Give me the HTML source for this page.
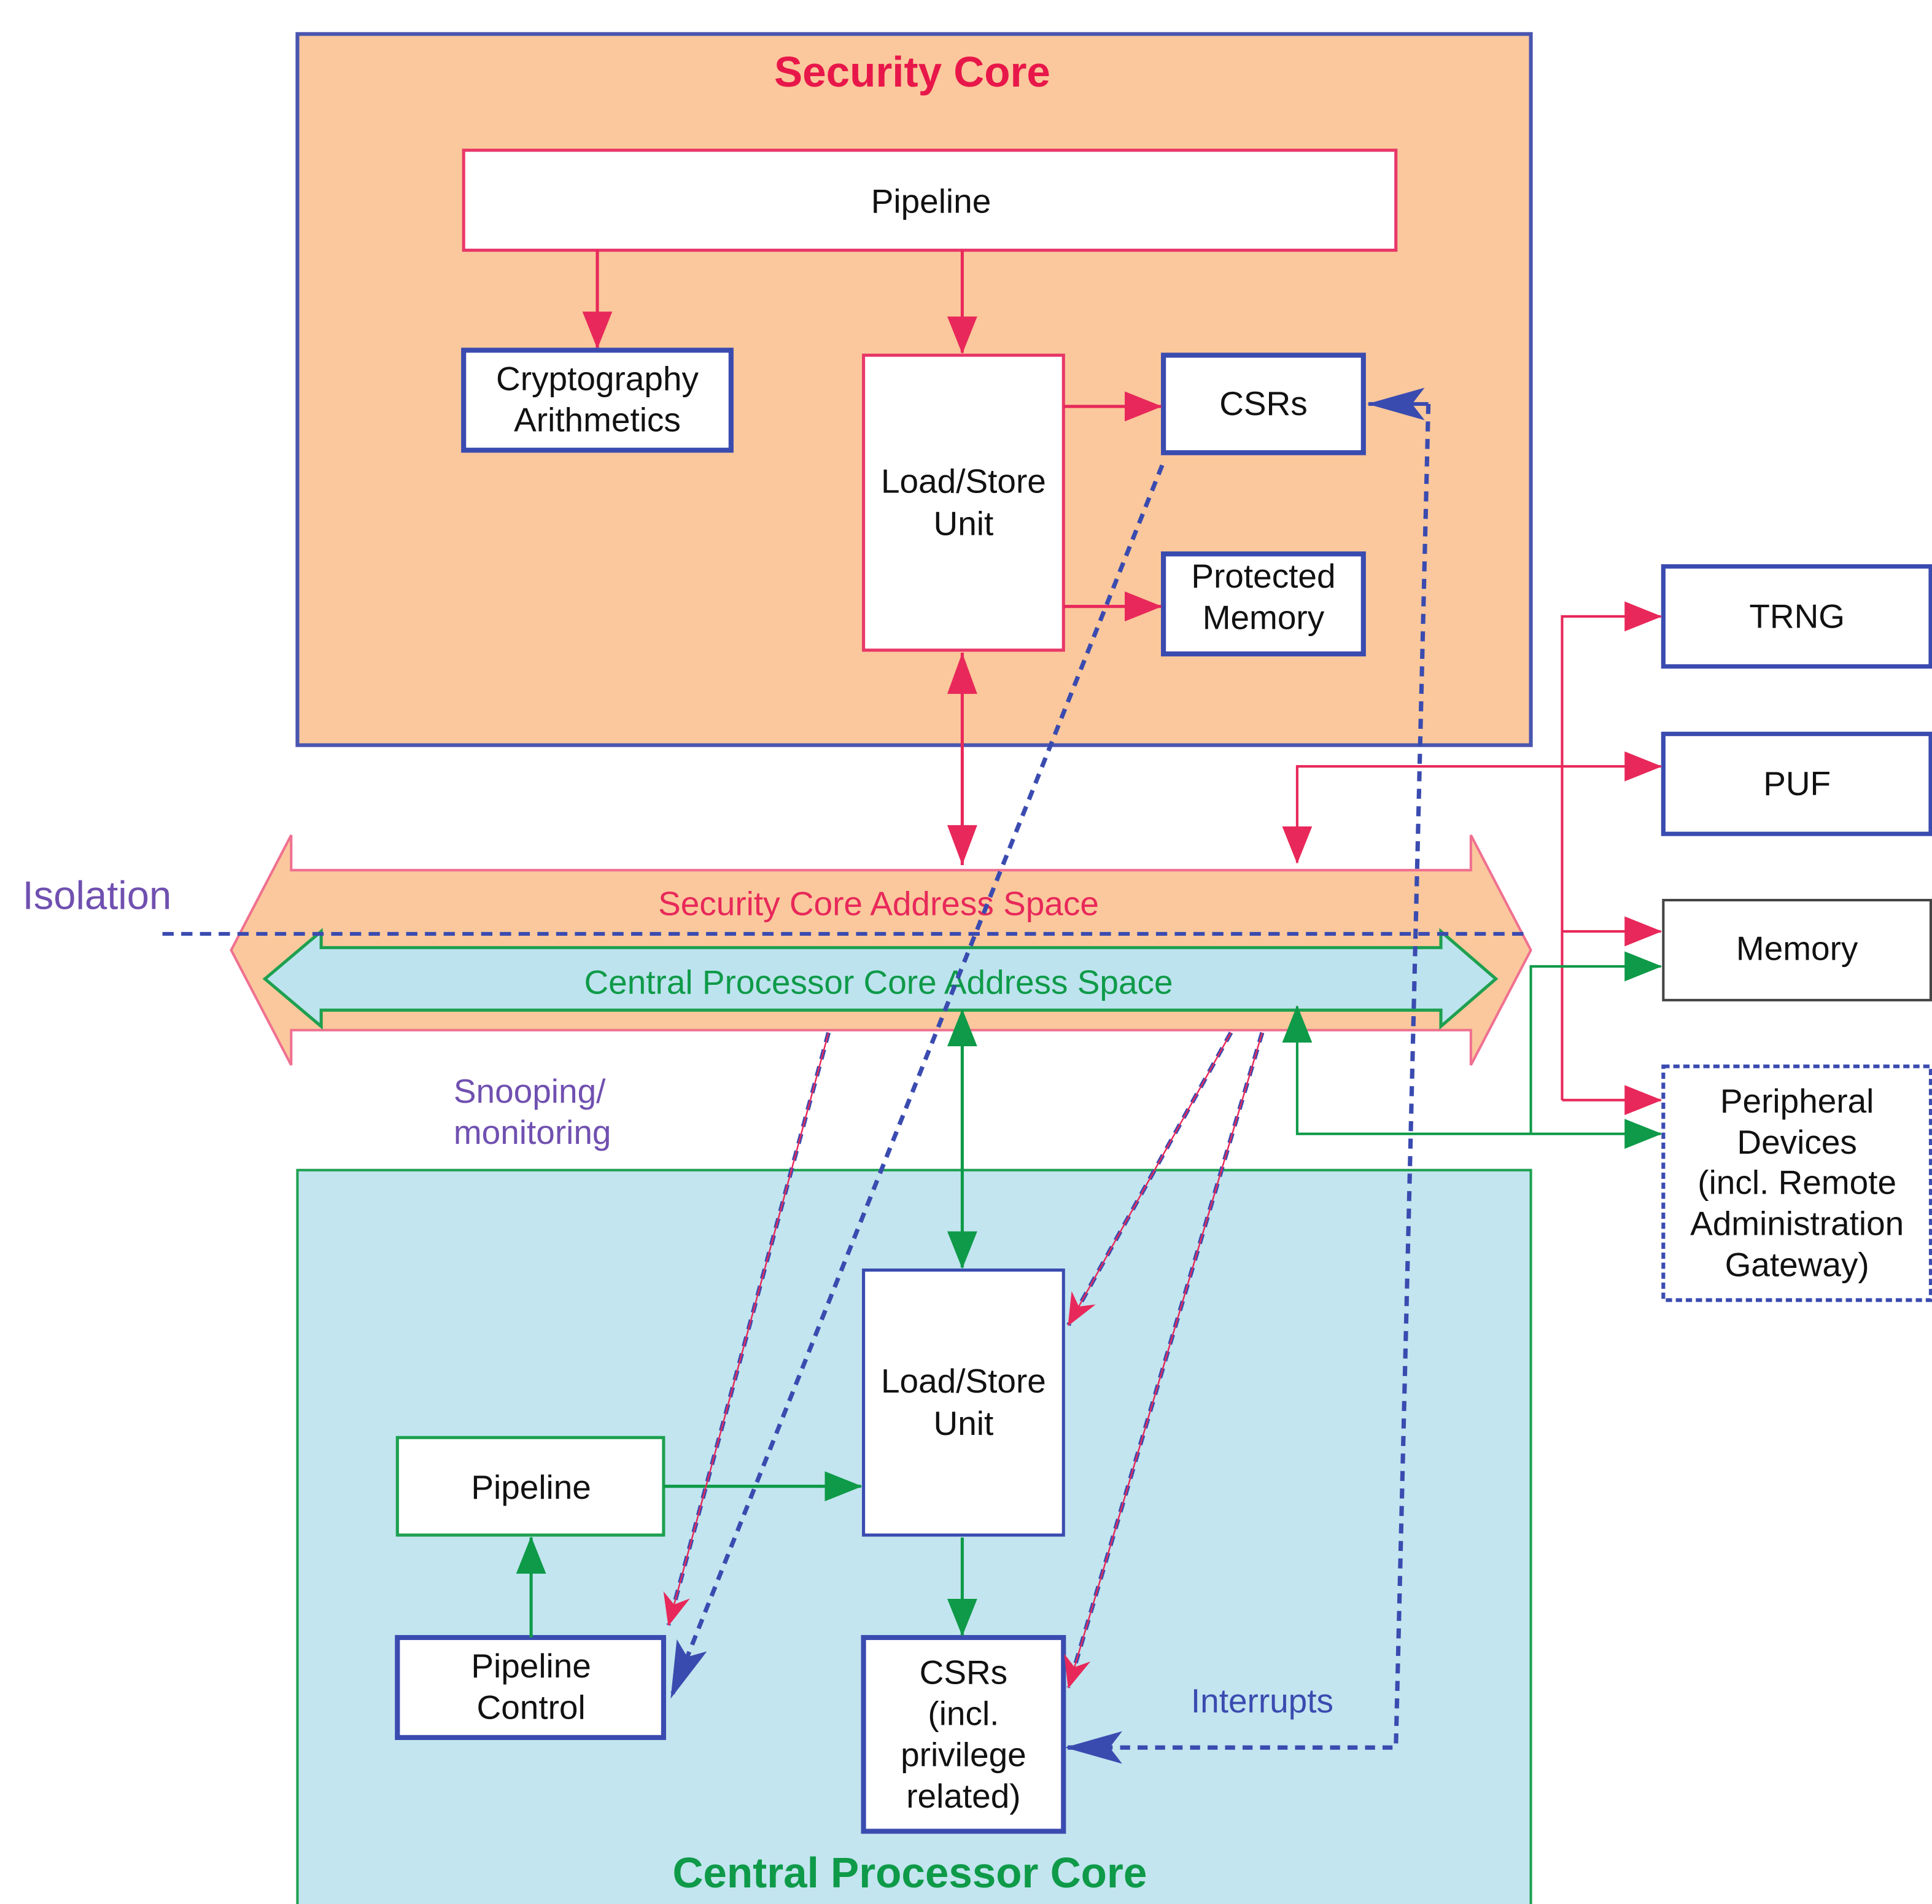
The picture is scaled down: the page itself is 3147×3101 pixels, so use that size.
<!DOCTYPE html>
<html><head><meta charset="utf-8"><style>html,body{margin:0;padding:0;background:#fff}svg{display:block}</style></head>
<body>
<svg width="3147" height="3101" viewBox="0 0 1546 1523" xmlns="http://www.w3.org/2000/svg" font-family="Liberation Sans, Arial, sans-serif">
<defs>
<marker id="rr" markerWidth="30" markerHeight="24" refX="29" refY="12" orient="auto" markerUnits="userSpaceOnUse"><path d="M0,0 L30,12 L0,24z" fill="#E8285A"/></marker>
<marker id="rs" markerWidth="30" markerHeight="24" refX="1" refY="12" orient="auto" markerUnits="userSpaceOnUse"><path d="M30,0 L0,12 L30,24z" fill="#E8285A"/></marker>
<marker id="g" markerWidth="30" markerHeight="24" refX="29" refY="12" orient="auto" markerUnits="userSpaceOnUse"><path d="M0,0 L30,12 L0,24z" fill="#0E9A48"/></marker>
<marker id="gs" markerWidth="30" markerHeight="24" refX="1" refY="12" orient="auto" markerUnits="userSpaceOnUse"><path d="M30,0 L0,12 L30,24z" fill="#0E9A48"/></marker>
<marker id="b" markerWidth="46" markerHeight="26" refX="45" refY="13" orient="auto" markerUnits="userSpaceOnUse"><path d="M0,0 L46,13 L0,26 L10,13z" fill="#3A4BB0"/></marker>
<marker id="rd" markerWidth="26" markerHeight="22" refX="25" refY="11" orient="auto" markerUnits="userSpaceOnUse"><path d="M0,0 L26,11 L0,22 L8,11z" fill="#E8285A"/></marker>
</defs>
<rect x="238" y="27" width="987" height="569" fill="#FAC89C" stroke="#4A55B0" stroke-width="3"/>
<text x="730" y="69" text-anchor="middle" font-size="34" font-weight="bold" fill="#E8174A">Security Core</text>
<rect x="371" y="120" width="746" height="80" fill="#fff" stroke="#E8386A" stroke-width="2.5"/>
<text x="745" y="170" text-anchor="middle" font-size="27" fill="#111">Pipeline</text>
<line x1="478" y1="200" x2="478" y2="278" stroke="#E8285A" stroke-width="2.5" marker-end="url(#rr)"/>
<line x1="770" y1="200" x2="770" y2="282" stroke="#E8285A" stroke-width="2.5" marker-end="url(#rr)"/>
<rect x="371" y="280" width="214" height="80" fill="#fff" stroke="#3A4BB0" stroke-width="4"/>
<text x="478" y="312" text-anchor="middle" font-size="27" fill="#111">Cryptography</text>
<text x="478" y="345" text-anchor="middle" font-size="27" fill="#111">Arithmetics</text>
<rect x="691" y="284" width="160" height="236" fill="#fff" stroke="#E8386A" stroke-width="2.5"/>
<text x="771" y="394" text-anchor="middle" font-size="27" fill="#111">Load/Store</text>
<text x="771" y="428" text-anchor="middle" font-size="27" fill="#111">Unit</text>
<rect x="931" y="284" width="160" height="78" fill="#fff" stroke="#3A4BB0" stroke-width="4"/>
<text x="1011" y="332" text-anchor="middle" font-size="27" fill="#111">CSRs</text>
<rect x="931" y="443" width="160" height="80" fill="#fff" stroke="#3A4BB0" stroke-width="4"/>
<text x="1011" y="470" text-anchor="middle" font-size="27" fill="#111">Protected</text>
<text x="1011" y="503" text-anchor="middle" font-size="27" fill="#111">Memory</text>
<line x1="851" y1="325" x2="929" y2="325" stroke="#E8285A" stroke-width="2.5" marker-end="url(#rr)"/>
<line x1="851" y1="485" x2="929" y2="485" stroke="#E8285A" stroke-width="2.5" marker-end="url(#rr)"/>
<line x1="770" y1="522" x2="770" y2="692" stroke="#E8285A" stroke-width="2.5"/>
<path d="M758,555 L770,522 L782,555z M758,660 L770,692 L782,660z" fill="#E8285A"/>
<rect x="238" y="936" width="987" height="600" fill="#C2E5EF" stroke="#1EA050" stroke-width="2"/>
<text x="728" y="1510" text-anchor="middle" font-size="34" font-weight="bold" fill="#0E9A48">Central Processor Core</text>
<polygon points="185,760 233,668 233,696 1177,696 1177,668 1225,760 1177,852 1177,824 233,824 233,852" fill="#FAC89C" stroke="#F07090" stroke-width="2"/>
<polygon points="212,783 257,745 257,758 1153,758 1153,745 1197,783 1153,821 1153,808 257,808 257,821" fill="#BDE3EE" stroke="#1EA050" stroke-width="2.5"/>
<text x="703" y="732" text-anchor="middle" font-size="27" fill="#E8285A">Security Core Address Space</text>
<text x="703" y="795" text-anchor="middle" font-size="27" fill="#0E9A48">Central Processor Core Address Space</text>
<line x1="130" y1="747" x2="1225" y2="747" stroke="#3A4BB0" stroke-width="3" stroke-dasharray="9,6"/>
<text x="18" y="727" font-size="32" fill="#7050B0">Isolation</text>
<text x="363" y="882" font-size="27" fill="#7050B0">Snooping/</text>
<text x="363" y="915" font-size="27" fill="#7050B0">monitoring</text>
<rect x="691" y="1016" width="160" height="212" fill="#fff" stroke="#3A4BB0" stroke-width="2.5"/>
<text x="771" y="1114" text-anchor="middle" font-size="27" fill="#111">Load/Store</text>
<text x="771" y="1148" text-anchor="middle" font-size="27" fill="#111">Unit</text>
<rect x="318" y="1150" width="213" height="78" fill="#fff" stroke="#1EA050" stroke-width="2.5"/>
<text x="425" y="1199" text-anchor="middle" font-size="27" fill="#111">Pipeline</text>
<rect x="318" y="1310" width="213" height="80" fill="#fff" stroke="#3A4BB0" stroke-width="4"/>
<text x="425" y="1342" text-anchor="middle" font-size="27" fill="#111">Pipeline</text>
<text x="425" y="1375" text-anchor="middle" font-size="27" fill="#111">Control</text>
<rect x="691" y="1310" width="160" height="155" fill="#fff" stroke="#3A4BB0" stroke-width="4"/>
<text x="771" y="1347" text-anchor="middle" font-size="27" fill="#111">CSRs</text>
<text x="771" y="1380" text-anchor="middle" font-size="27" fill="#111">(incl.</text>
<text x="771" y="1413" text-anchor="middle" font-size="27" fill="#111">privilege</text>
<text x="771" y="1446" text-anchor="middle" font-size="27" fill="#111">related)</text>
<line x1="770" y1="808" x2="770" y2="1014" stroke="#0E9A48" stroke-width="2.5" marker-end="url(#g)" marker-start="url(#gs)"/>
<line x1="531" y1="1189" x2="689" y2="1189" stroke="#0E9A48" stroke-width="2.5" marker-end="url(#g)"/>
<line x1="770" y1="1230" x2="770" y2="1308" stroke="#0E9A48" stroke-width="2.5" marker-end="url(#g)"/>
<line x1="425" y1="1310" x2="425" y2="1230" stroke="#0E9A48" stroke-width="2.5" marker-end="url(#g)"/>
<rect x="1331" y="453" width="214" height="80" fill="#fff" stroke="#3A4BB0" stroke-width="3.5"/>
<text x="1438" y="502" text-anchor="middle" font-size="27" fill="#111">TRNG</text>
<rect x="1331" y="587" width="214" height="80" fill="#fff" stroke="#3A4BB0" stroke-width="3.5"/>
<text x="1438" y="636" text-anchor="middle" font-size="27" fill="#111">PUF</text>
<rect x="1331" y="720" width="214" height="80" fill="#fff" stroke="#444" stroke-width="2"/>
<text x="1438" y="768" text-anchor="middle" font-size="27" fill="#111">Memory</text>
<rect x="1331" y="853" width="214" height="187" fill="#fff" stroke="#3A4BB0" stroke-width="3" stroke-dasharray="5,3"/>
<text x="1438" y="890" text-anchor="middle" font-size="27" fill="#111">Peripheral</text>
<text x="1438" y="923" text-anchor="middle" font-size="27" fill="#111">Devices</text>
<text x="1438" y="955" text-anchor="middle" font-size="27" fill="#111">(incl. Remote</text>
<text x="1438" y="988" text-anchor="middle" font-size="27" fill="#111">Administration</text>
<text x="1438" y="1021" text-anchor="middle" font-size="27" fill="#111">Gateway)</text>
<polyline points="1250,880 1250,493 1329,493" fill="none" stroke="#E8285A" stroke-width="2" marker-end="url(#rr)"/>
<line x1="1250" y1="745" x2="1329" y2="745" stroke="#E8285A" stroke-width="2" marker-end="url(#rr)"/>
<line x1="1250" y1="880" x2="1329" y2="880" stroke="#E8285A" stroke-width="2" marker-end="url(#rr)"/>
<polyline points="1038,690 1038,613 1329,613" fill="none" stroke="#E8285A" stroke-width="2" marker-end="url(#rr)" marker-start="url(#rs)"/>
<polyline points="1038,805 1038,907 1329,907" fill="none" stroke="#0E9A48" stroke-width="2" marker-end="url(#g)" marker-start="url(#gs)"/>
<polyline points="1225,907 1225,773 1329,773" fill="none" stroke="#0E9A48" stroke-width="2" marker-end="url(#g)"/>
<polyline points="1143,323 1117,1398 853,1398" fill="none" stroke="#3A4BB0" stroke-width="3.5" stroke-dasharray="8,6" marker-end="url(#b)"/>
<line x1="1143" y1="323" x2="1095" y2="323" stroke="#3A4BB0" stroke-width="3" marker-end="url(#b)"/>
<text x="1010" y="1370" text-anchor="middle" font-size="27" fill="#3A4BB0">Interrupts</text>
<line x1="930" y1="372" x2="537" y2="1358" stroke="#3A4BB0" stroke-width="3.5" stroke-dasharray="8,6" marker-end="url(#b)"/>
<line x1="663" y1="826" x2="535" y2="1300" stroke="#3A4BB0" stroke-width="3.5" stroke-dasharray="8,6"/>
<line x1="663" y1="826" x2="535" y2="1300" stroke="#E8285A" stroke-width="1.2" marker-end="url(#rd)"/>
<line x1="985" y1="826" x2="855" y2="1060" stroke="#3A4BB0" stroke-width="3.5" stroke-dasharray="8,6"/>
<line x1="985" y1="826" x2="855" y2="1060" stroke="#E8285A" stroke-width="1.2" marker-end="url(#rd)"/>
<line x1="1010" y1="826" x2="855" y2="1350" stroke="#3A4BB0" stroke-width="3.5" stroke-dasharray="8,6"/>
<line x1="1010" y1="826" x2="855" y2="1350" stroke="#E8285A" stroke-width="1.2" marker-end="url(#rd)"/>
</svg>
</body></html>
